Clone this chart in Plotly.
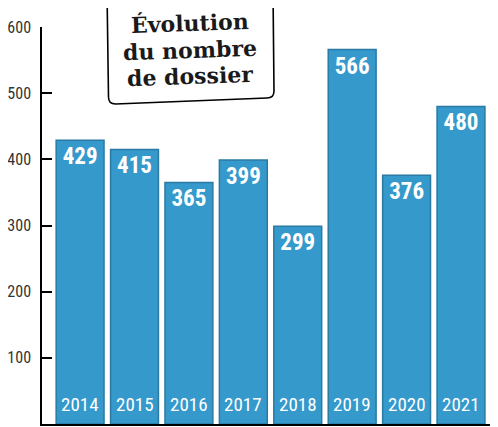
import plotly.graph_objects as go

# ---------------------------------------
# DATA
# ---------------------------------------
years = ["2014", "2015", "2016", "2017", "2018", "2019", "2020", "2021"]
dossiers = [429, 415, 365, 399, 299, 566, 376, 480]
y_ticks = [0, 100, 200, 300, 400, 500, 600]

# page is drawn with an 8px body margin, so the figure is 8px smaller
W, H = 490, 419
L, T, B = 34, 19, 3

# plot area in page pixels: x 42..498, y 27..424
PX0, PX1, PY0, PY1 = 42, 498, 27, 424


def px_x(p):
    return (p - PX0) / (PX1 - PX0)


def px_y(p):
    return (PY1 - p) / (PY1 - PY0)


FONT = "Liberation Sans Narrow, Roboto Condensed, Liberation Sans, Arial"

fig = go.Figure()

fig.add_trace(go.Bar(
    x=years,
    y=dossiers,
    marker=dict(color="#3599CB", line=dict(color="#2B7AA3", width=1.5)),
    width=0.88,
    text=[str(v) for v in dossiers],
    textposition="inside",
    insidetextanchor="end",
    textangle=0,
    textfont=dict(family=FONT, size=23, color="white", weight="bold"),
    cliponaxis=False,
    hoverinfo="skip",
))

# year labels at the foot of each bar
for i, yr in enumerate(years):
    fig.add_annotation(
        x=i, y=0, yref="y", xref="x",
        text=yr, showarrow=False,
        yanchor="bottom", yshift=6,
        font=dict(family=FONT, size=19, color="white"),
    )

# title card (slightly tilted rounded box)
r = 7
x0, x1 = 107, 274
y_top = -10
yl, yr_ = 104, 98
path = (
    f"M {px_x(x0)},{px_y(y_top)} "
    f"L {px_x(x0 + 1.5)},{px_y(yl - r)} "
    f"Q {px_x(x0 + 1.5)},{px_y(yl)} {px_x(x0 + 1.5 + r)},{px_y(yl)} "
    f"L {px_x(x1 - r)},{px_y(yr_)} "
    f"Q {px_x(x1)},{px_y(yr_)} {px_x(x1)},{px_y(yr_ - r)} "
    f"L {px_x(x1 - 1)},{px_y(y_top)} Z"
)
fig.add_shape(type="path", path=path, xref="paper", yref="paper",
              fillcolor="white", line=dict(color="black", width=1.6), layer="above")

for i, line in enumerate(["Évolution", "du nombre", "de dossier"]):
    fig.add_annotation(
        x=px_x(190), y=px_y(23 + i * 26.5), xref="paper", yref="paper",
        text=f"<b>{line}</b>", showarrow=False, textangle=-2,
        xanchor="center", yanchor="middle",
        font=dict(family="DejaVu Serif", size=22, color="#1a1a1a"),
    )

fig.update_layout(
    width=W, height=H,
    margin=dict(l=L, r=0, t=T, b=B),
    plot_bgcolor="white",
    paper_bgcolor="white",
    showlegend=False,
    bargap=0.12,
    xaxis=dict(
        type="category",
        range=[-0.7, 7.68],
        showticklabels=False,
        ticks="",
        showgrid=False,
        zeroline=False,
        showline=True, linecolor="black", linewidth=2,
        automargin=False,
    ),
    yaxis=dict(
        range=[0, 600],
        tickvals=y_ticks,
        ticks="inside", ticklen=10, tickcolor="black", tickwidth=1.5,
        showgrid=False,
        zeroline=False,
        showline=True, linecolor="black", linewidth=1.5,
        tickfont=dict(family=FONT, size=16, color="#333333"),
        ticklabelstandoff=6,
        automargin=False,
    ),
)

fig.write_html("out.html")
